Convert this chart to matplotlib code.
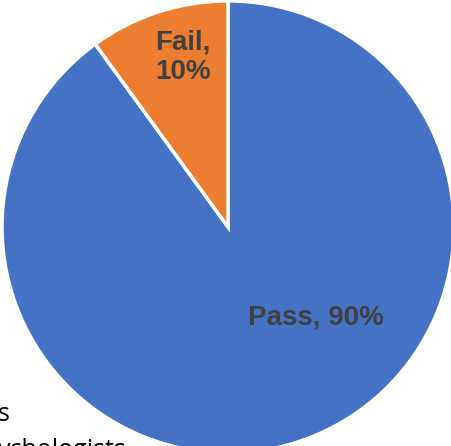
import matplotlib.pyplot as plt

categorias = ['Pass', 'Fail']
valores = [90, 10]
cores = ['#4472C4', '#ED7D31']

fig = plt.figure(figsize=(4.51, 4.46), dpi=100)
ax = fig.add_axes([0, 0, 1, 1])

# pizza começando no topo, sentido horário
ax.pie(valores, colors=cores, startangle=90, counterclock=False,
       wedgeprops={'edgecolor': 'white', 'linewidth': 2.5})

# rótulos no estilo do Excel
total = sum(valores)
rotulos = ['%s, %d%%' % (c, round(v * 100 / total)) for c, v in zip(categorias, valores)]
ax.text(0.39, -0.40, rotulos[0], ha='center', va='center',
        fontsize=20, fontweight='bold', color='#404040', family='Liberation Sans')
ax.text(-0.20, 0.75, rotulos[1].replace(' ', '\n'), ha='center', va='center',
        fontsize=20, fontweight='bold', color='#404040', family='Liberation Sans',
        linespacing=1.15)

# recorte igual à imagem original
ax.set_xlim(-1.009, 0.987)
ax.set_ylim(-0.969, 1.004)
ax.set_aspect('auto')
ax.axis('off')

# fragmentos de texto do documento ao redor
fig.text(-0.005, 0.056, 's', fontsize=18, color='black', family='Open Sans', va='baseline')
fig.text(-0.005, -0.025, 'ychologists', fontsize=18, color='black', family='Open Sans', va='baseline')

fig.savefig('out.png', dpi=100)
